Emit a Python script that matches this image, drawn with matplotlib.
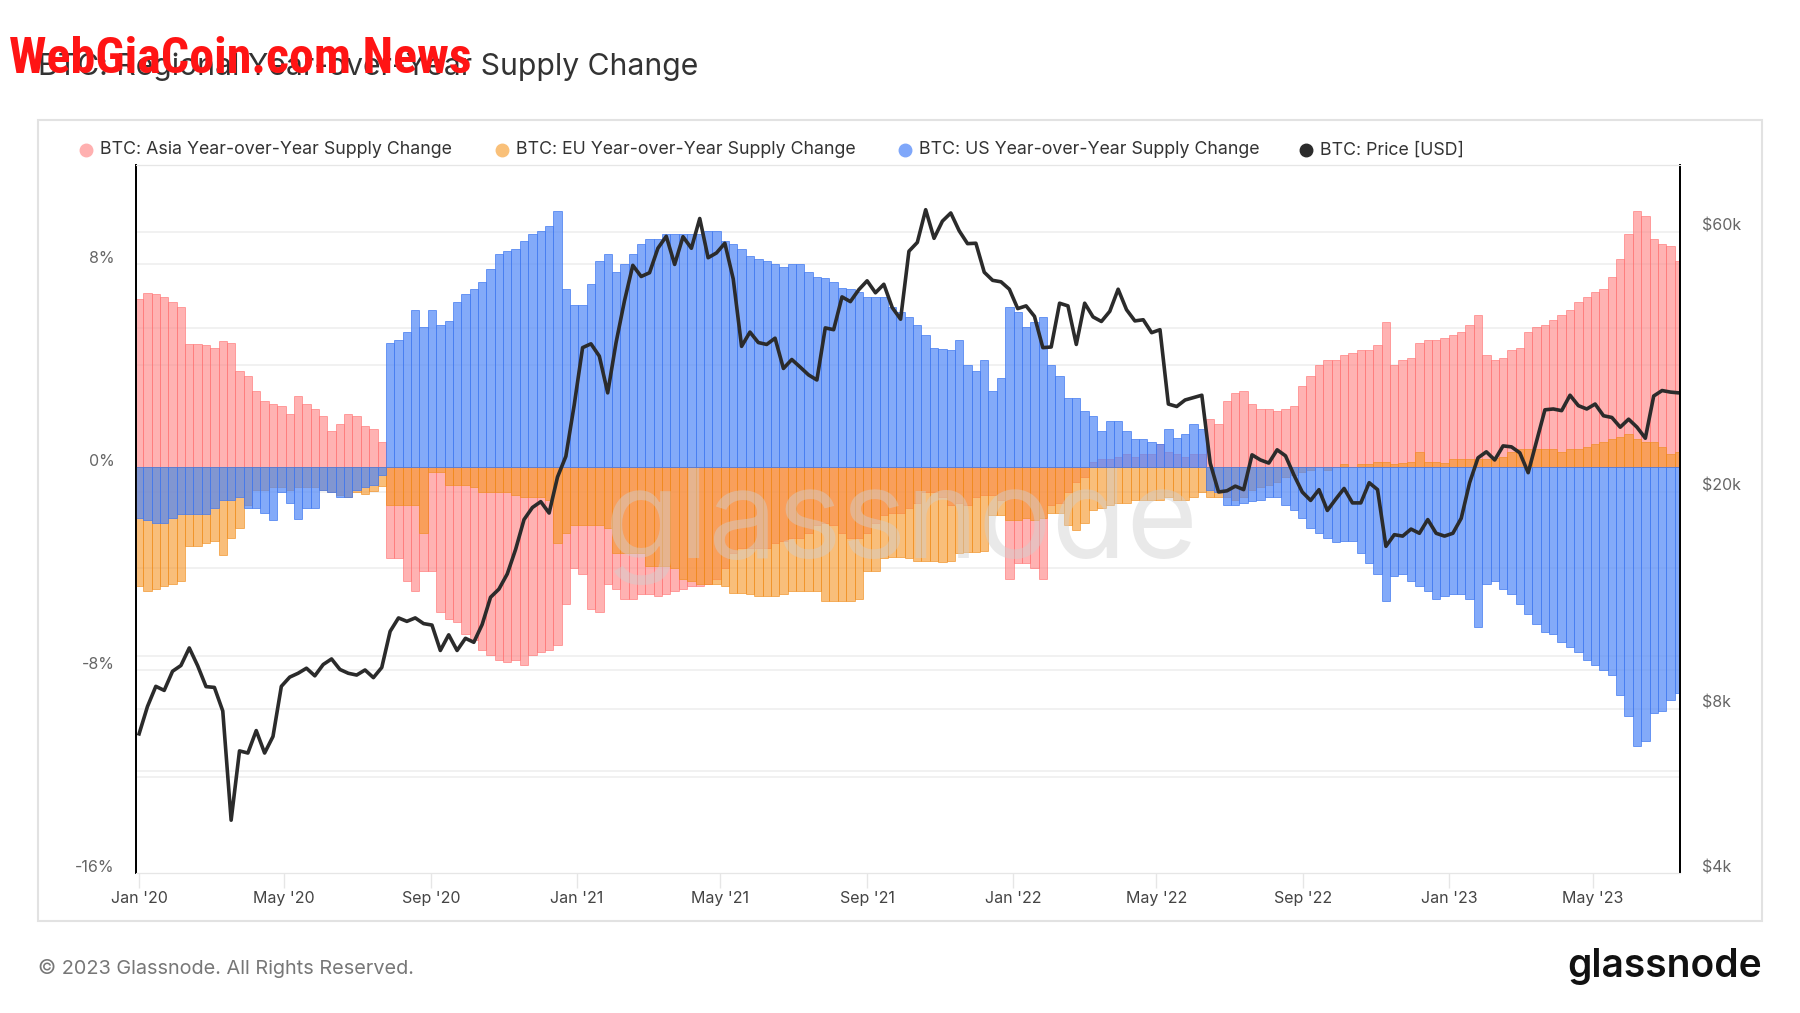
import numpy as np
import pandas as pd
import matplotlib
matplotlib.use("Agg")
import matplotlib.pyplot as plt
import matplotlib.transforms as mtransforms
from matplotlib.patches import Rectangle
from matplotlib.lines import Line2D

plt.rcParams['font.family'] = ['Inter', 'DejaVu Sans']

# weekly samples, Jan 1 2020 -> Jul 12 2023
week_start = pd.date_range('2020-01-01', periods=185, freq='7D')

asia_yoy = [
    6.6, 6.85, 6.8, 6.7, 6.5, 6.3, 4.85, 4.85, 4.8, 4.7,
    4.95, 4.9, 3.8, 3.6, 3.0, 2.6, 2.5, 2.4, 2.1, 2.8,
    2.5, 2.3, 2.0, 1.4, 1.7, 2.1, 2.0, 1.6, 1.5, 1.0,
    -3.6, -3.6, -4.5, -4.9, -4.1, -4.1, -5.7, -6.0, -6.1, -6.6,
    -6.8, -7.2, -7.4, -7.6, -7.7, -7.6, -7.8, -7.4, -7.3, -7.2,
    -7.0, -5.4, -4.0, -4.2, -5.6, -5.7, -4.6, -4.8, -5.2, -5.2,
    -5.0, -5.0, -5.1, -5.0, -4.9, -4.8, -4.7, -4.7, -4.6, -4.4,
    -4.0, -3.4, -3.2, -3.2, -3.2, -3.2, -3.0, -2.9, -2.8, -2.8,
    -2.6, -2.3, -2.2, -2.3, -2.6, -2.8, -2.8, -2.6, -2.2, -1.9,
    -1.8, -1.8, -1.6, -1.4, -1.0, -1.0, -1.2, -1.5, -1.4, -1.5,
    -1.2, -1.1, -1.1, -1.3, -4.4, -3.8, -3.8, -4.0, -4.4, -1.5,
    -1.4, -1.0, -0.6, -0.4, 0.2, 0.3, 0.3, 0.4, 0.5, 0.4,
    0.5, 0.5, 0.9, 0.6, 0.5, 0.4, 0.5, 0.5, 1.9, 1.7,
    2.6, 2.9, 3.0, 2.5, 2.3, 2.3, 2.2, 2.3, 2.4, 3.2,
    3.6, 4.0, 4.2, 4.2, 4.4, 4.5, 4.6, 4.6, 4.8, 5.7,
    4.0, 4.2, 4.3, 4.9, 5.0, 5.0, 5.1, 5.2, 5.3, 5.6,
    6.0, 4.4, 4.2, 4.3, 4.6, 4.7, 5.3, 5.5, 5.6, 5.8,
    6.0, 6.2, 6.5, 6.7, 6.9, 7.0, 7.5, 8.2, 9.2, 10.1,
    9.9, 9.0, 8.8, 8.7, 8.1,
]

eu_yoy = [
    -4.7, -4.9, -4.8, -4.7, -4.6, -4.5, -3.1, -3.1, -3.0, -2.9,
    -3.45, -2.8, -2.4, -1.5, -0.9, -0.9, -0.8, -0.8, -0.9, -0.8,
    -0.8, -0.8, -0.9, -1.0, -1.1, -1.2, -1.0, -1.05, -0.95, -0.75,
    -1.5, -1.5, -1.5, -1.5, -2.6, -0.2, -0.2, -0.7, -0.7, -0.7,
    -0.8, -1.0, -1.0, -1.0, -1.0, -1.1, -1.2, -1.2, -1.2, -1.3,
    -3.0, -2.6, -2.3, -2.3, -2.3, -2.3, -2.4, -3.4, -3.4, -3.4,
    -3.4, -3.9, -3.9, -3.9, -4.0, -4.4, -4.5, -4.6, -4.6, -4.6,
    -4.7, -4.95, -4.95, -5.0, -5.1, -5.1, -5.1, -5.0, -4.9, -4.9,
    -4.9, -4.9, -5.3, -5.3, -5.3, -5.3, -5.2, -4.1, -4.1, -3.6,
    -3.55, -3.55, -3.6, -3.7, -3.7, -3.7, -3.75, -3.7, -3.4, -3.35,
    -3.35, -3.3, -1.9, -1.9, -2.1, -2.1, -2.0, -2.1, -2.0, -1.8,
    -1.8, -2.3, -2.5, -2.2, -1.7, -1.6, -1.5, -1.4, -1.4, -1.3,
    -1.3, -1.3, -1.3, -1.2, -1.3, -1.3, -1.2, -1.0, -1.2, -1.2,
    -1.2, -1.3, -1.2, -0.9, -0.8, -0.7, -0.6, -0.4, -0.3, -0.2,
    -0.1, 0.0, -0.1, 0.0, 0.1, 0.0, 0.1, 0.1, 0.2, 0.2,
    0.1, 0.15, 0.2, 0.6, 0.2, 0.2, 0.15, 0.3, 0.3, 0.3,
    0.3, 0.3, 0.35, 0.4, 0.6, 0.7, 0.7, 0.7, 0.7, 0.7,
    0.6, 0.7, 0.7, 0.8, 0.9, 1.0, 1.1, 1.2, 1.3, 1.1,
    1.0, 1.0, 0.8, 0.5, 0.6,
]

us_yoy = [
    -2.0, -2.1, -2.2, -2.2, -2.0, -1.85, -1.85, -1.85, -1.85, -1.6,
    -1.3, -1.3, -1.2, -1.6, -1.6, -1.8, -2.1, -1.0, -1.4, -2.05,
    -1.6, -1.6, -0.9, -1.0, -1.2, -1.2, -0.9, -0.8, -0.7, -0.3,
    4.9, 5.0, 5.3, 6.2, 5.5, 6.2, 5.6, 5.75, 6.5, 6.8,
    7.0, 7.3, 7.8, 8.4, 8.5, 8.6, 8.9, 9.2, 9.3, 9.5,
    10.1, 7.0, 6.4, 6.4, 7.2, 8.1, 8.4, 7.7, 8.0, 8.4,
    8.8, 9.0, 9.0, 9.2, 9.2, 9.2, 9.2, 9.2, 9.3, 9.3,
    8.9, 8.8, 8.6, 8.3, 8.2, 8.1, 8.0, 7.9, 8.0, 8.0,
    7.7, 7.5, 7.45, 7.3, 7.05, 7.0, 6.9, 6.7, 6.7, 6.7,
    6.3, 6.1, 5.9, 5.6, 5.2, 4.7, 4.65, 4.6, 5.0, 4.0,
    3.8, 4.2, 3.0, 3.5, 6.3, 6.1, 5.5, 5.7, 5.9, 4.0,
    3.6, 2.7, 2.7, 2.2, 2.0, 1.4, 1.8, 1.8, 1.4, 1.1,
    1.1, 1.0, 0.9, 1.5, 1.15, 1.3, 1.7, 1.5, -0.9, -1.0,
    -1.5, -1.5, -1.4, -1.35, -1.3, -1.2, -1.2, -1.5, -1.7, -2.0,
    -2.4, -2.6, -2.8, -2.95, -2.9, -2.9, -3.4, -3.8, -4.2, -5.3,
    -4.3, -4.2, -4.5, -4.7, -4.9, -5.2, -5.1, -5.0, -5.0, -5.2,
    -6.3, -4.6, -4.5, -4.8, -5.0, -5.4, -5.8, -6.2, -6.5, -6.6,
    -6.9, -7.1, -7.3, -7.6, -7.8, -8.0, -8.2, -9.0, -9.8, -11.0,
    -10.8, -9.7, -9.6, -9.2, -8.9,
]

btc_price = [
    7200, 8080, 8800, 8650, 9380, 9610, 10350, 9600, 8790, 8760,
    7930, 5000, 6700, 6640, 7300, 6640, 7120, 8800, 9150, 9300,
    9500, 9200, 9650, 9880, 9450, 9300, 9230, 9430, 9130, 9530,
    11100, 11750, 11580, 11750, 11470, 11400, 10240, 10940, 10240, 10780,
    10600, 11430, 12820, 13270, 14150, 15700, 17800, 18730, 19200, 18300,
    21300, 23250, 28900, 36800, 37400, 35500, 30400, 37600, 44800, 52100,
    49700, 50500, 56000, 58900, 52300, 58800, 56000, 63500, 53800, 54900,
    57200, 49200, 37000, 39300, 37600, 37300, 38300, 33700, 35000, 33900,
    32800, 32100, 40000, 39700, 45600, 44700, 47000, 48800, 46400, 48100,
    43600, 41500, 55300, 57400, 65900, 58400, 62800, 65000, 60300, 57100,
    57200, 50600, 48900, 48600, 47100, 43400, 43900, 42000, 36800, 36900,
    44400, 43900, 37300, 44400, 41900, 41100, 42900, 47100, 43200, 41200,
    41400, 39200, 39700, 29000, 28700, 29500, 29800, 30100, 22600, 20000,
    20100, 20500, 20200, 23400, 22900, 22600, 23900, 23300, 21500, 20000,
    19300, 20200, 18500, 19400, 20300, 19100, 19100, 20800, 20200, 15900,
    16700, 16600, 17100, 16800, 17800, 16800, 16600, 16800, 17900, 20800,
    23100, 23700, 22900, 24300, 24200, 23600, 21700, 24800, 28300, 28400,
    28200, 30100, 28800, 28400, 29000, 27600, 27400, 26300, 27200, 26300,
    25100, 30000, 30700, 30500, 30400,
]

tick_dates = pd.to_datetime(['2020-01-01', '2020-05-01', '2020-09-01', '2021-01-01',
                             '2021-05-01', '2021-09-01', '2022-01-01', '2022-05-01',
                             '2022-09-01', '2023-01-01', '2023-05-01'])
tick_labels = ["Jan '20", "May '20", "Sep '20", "Jan '21", "May '21", "Sep '21",
               "Jan '22", "May '22", "Sep '22", "Jan '23", "May '23"]
pct_ticks = [-16, -8, 0, 8]
pct_grid = [-12, -8, -4, 4, 8]
price_ticks = [4000, 8000, 20000, 60000]
price_labels = ['$4k', '$8k', '$20k', '$60k']
price_grid = [6000, 8000, 10000, 20000, 40000, 60000]

series_names = ['BTC: Asia Year-over-Year Supply Change',
                'BTC: EU Year-over-Year Supply Change',
                'BTC: US Year-over-Year Supply Change',
                'BTC: Price [USD]']

W, H = 1800, 1013
fig = plt.figure(figsize=(18, 10.13), dpi=100)
fig.patch.set_facecolor('white')


def fx(px):
    return px / W


def fy(py):
    return 1 - py / H


# card frame
fig.add_artist(Rectangle((fx(38), fy(921)), fx(1762) - fx(38), fy(120) - fy(921),
                         transform=fig.transFigure, fill=False, edgecolor='#e2e2e2', lw=1.5))

ax = fig.add_axes([fx(135.5), fy(873), fx(1680) - fx(135.5), fy(165) - fy(873)])
ax2 = ax.twinx()

ax.bar(week_start, asia_yoy, width=7, color='#ff8080', alpha=0.6,
       edgecolor='#ff7070', linewidth=0.7, zorder=2)
ax.bar(week_start, eu_yoy, width=7, color='#f59322', alpha=0.6,
       edgecolor='#f08a18', linewidth=0.7, zorder=3)
ax.bar(week_start, us_yoy, width=7, color='#4f86f7', alpha=0.7,
       edgecolor='#3f78f0', linewidth=0.7, zorder=4)

ax.set_xlim(pd.Timestamp('2019-12-29'), pd.Timestamp('2023-07-13'))
ax.set_ylim(-16, 11.9)

ax2.plot(week_start, btc_price, color='#2b2b2b', lw=2.6, solid_joinstyle='round')
ax2.set_yscale('log')
ax2.set_ylim(4000, 79600)

# light grid lines for both scales, behind the bars
for v in pct_grid:
    ax.axhline(v, color='#efefef', lw=1.2, zorder=1)
price_tr = mtransforms.blended_transform_factory(ax.transAxes, ax2.transData)
for v in price_grid:
    ax.plot([0, 1], [v, v], transform=price_tr, color='#efefef', lw=1.2, zorder=1)

# glassnode watermark
ax.text(0.496, 0.49, 'glassnode', transform=ax.transAxes, ha='center', va='center',
        fontsize=88, color='#cfcfcf', alpha=0.45, zorder=6)

# axes cosmetics
for a in (ax, ax2):
    a.spines['top'].set_color('#e6e6e6')
    a.spines['bottom'].set_color('#e6e6e6')
    a.spines['left'].set_color('black')
    a.spines['right'].set_color('black')
    a.spines['left'].set_linewidth(1.3)
    a.spines['right'].set_linewidth(1.3)

up = mtransforms.ScaledTranslation(0, 7 / 100, fig.dpi_scale_trans)

ax.set_yticks(pct_ticks)
ax.set_yticklabels([f'{v}%' for v in pct_ticks])
ax.tick_params(axis='y', length=0, pad=15, labelsize=11.5, labelcolor='#666666')
for lab in ax.get_yticklabels():
    lab.set_transform(lab.get_transform() + up)

ax2.set_yticks(price_ticks)
ax2.set_yticklabels(price_labels)
ax2.yaxis.set_minor_locator(matplotlib.ticker.NullLocator())
ax2.tick_params(axis='y', which='both', length=0, pad=16, labelsize=11.5, labelcolor='#666666')
for lab in ax2.get_yticklabels():
    lab.set_transform(lab.get_transform() + up)

ax.set_xticks(tick_dates)
ax.set_xticklabels(tick_labels)
ax.tick_params(axis='x', length=11, color='#e6e6e6', width=1, pad=2,
               labelsize=11.5, labelcolor='#444444')

# title, watermark, legend, footer
fig.text(fx(38), fy(67), 'BTC: Regional Year-over-Year Supply Change', ha='left', va='center',
         fontsize=21.7, color='#333333')
fig.text(fx(9), fy(59), 'WebGiaCoin.com News', ha='left', va='center', fontsize=36,
         fontweight='bold', color='#ff1414',
         family=['Liberation Sans Narrow', 'Roboto Condensed', 'DejaVu Sans'])

legend_colors = ['#ffb0b0', '#f9c079', '#7fa7fa', '#2b2b2b']
dot_x = [86, 502, 905, 1306]
for name, col, x in zip(series_names, legend_colors, dot_x):
    fig.add_artist(Line2D([fx(x)], [fy(150)], marker='o', markersize=9, color=col,
                          transform=fig.transFigure))
    fig.text(fx(x + 14), fy(150), name, ha='left', va='center', fontsize=12.8, color='#333333')

fig.text(fx(38), fy(968), '\u00a9 2023 Glassnode. All Rights Reserved.', ha='left', va='center',
         fontsize=14.3, color='#777777')
fig.text(fx(1762), fy(966), 'glassnode', ha='right', va='center', fontsize=28,
         fontweight='semibold', color='#111111')

fig.savefig('out.png', dpi=100, facecolor='white')
